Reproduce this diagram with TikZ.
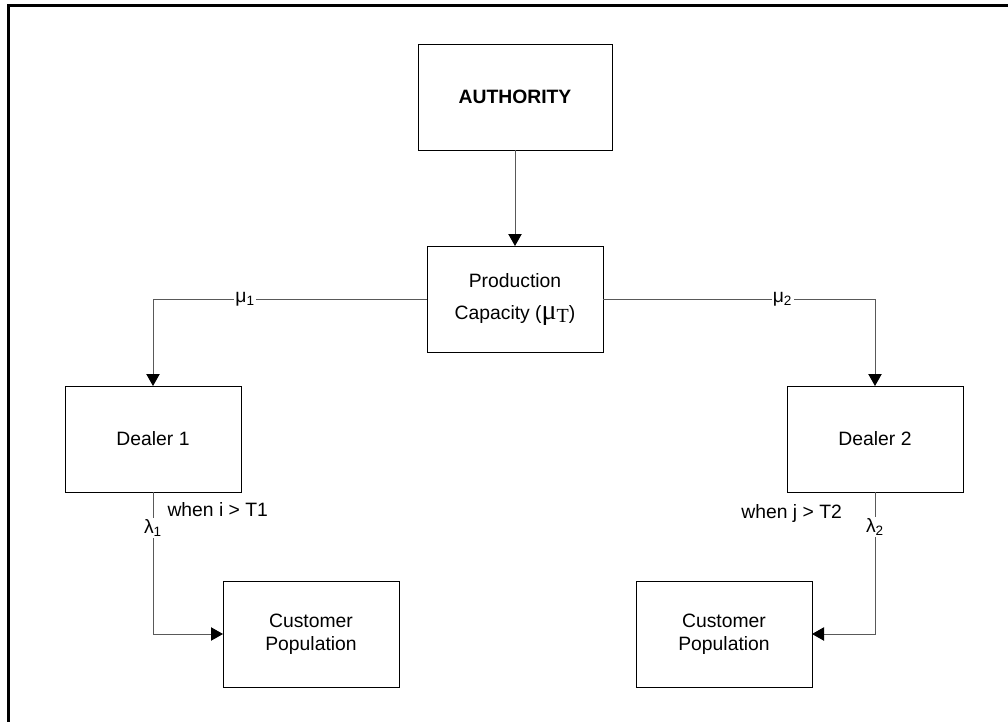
\documentclass[tikz,border=0pt]{standalone}
\usepackage{fontspec}
\setmainfont{Liberation Sans}
\newfontfamily\mufont{Liberation Serif}
\usetikzlibrary{arrows.meta}
\usetikzlibrary{positioning}

\newcommand{\muT}{{\mufont\fontsize{21}{21}\selectfont μ\raisebox{-2.5pt}{\fontsize{15}{15}\selectfont T}}}

\tikzset{
  box/.style={draw=black, line width=0.75pt, minimum width=132pt, minimum height=79.5pt,
    inner sep=0pt, outer sep=0pt, align=center, font=\fontsize{14.5}{17.5}\selectfont},
  conn/.style={draw=black!65, line width=0.75pt,
    -{Triangle[length=9pt,width=10pt,color=black]}},
  lbl/.style={fill=white, inner sep=1pt, font=\fontsize{14.5}{17.5}\selectfont},
  cond/.style={inner sep=0pt, font=\fontsize{14.5}{17.5}\selectfont}
}

\begin{document}
\begin{tikzpicture}[x=0.75pt, y=-0.75pt]
        \useasboundingbox (0,0) rectangle (1008,722);
        % frame, open at right and bottom
        \draw[line width=2.25pt] (8.5,722) -- (8.5,5) -- (1008,5);

        \node[box, minimum width=145.5pt, font=\fontsize{14.5}{17.5}\selectfont\bfseries] (auth) at (515,97) {AUTHORITY};
        \node[box, below=72pt of auth, font=\fontsize{14.5}{24}\selectfont] (prod) {Production\\Capacity (\muT)};

        \node[box] (dealer1) at (153,439) {Dealer 1};
        \node[box] (dealer2) at (875,439) {Dealer 2};

        \node[box] (cust1) at (311,634) {Customer\\Population};
        \node[box] (cust2) at (724,634) {Customer\\Population};

        \draw[conn] (auth) -- (prod);
        \draw[conn] (prod.west) -| node[lbl, pos=0.332] {μ\textsubscript{1}} (dealer1.north);
        \draw[conn] (prod.east) -| node[lbl, pos=0.33] {μ\textsubscript{2}} (dealer2.north);

        \draw[conn] (dealer1.south) |- node[lbl, pos=0.127] {λ\textsubscript{1}}
            node[cond, anchor=west, xshift=10.5pt, pos=0.063] {when i > T1} (cust1.west);
        \draw[conn] (dealer2.south) |- node[lbl, pos=0.123] {λ\textsubscript{2}}
            node[cond, anchor=east, xshift=-24.5pt, pos=0.077] {when j > T2} (cust2.east);
\end{tikzpicture}
\end{document}
